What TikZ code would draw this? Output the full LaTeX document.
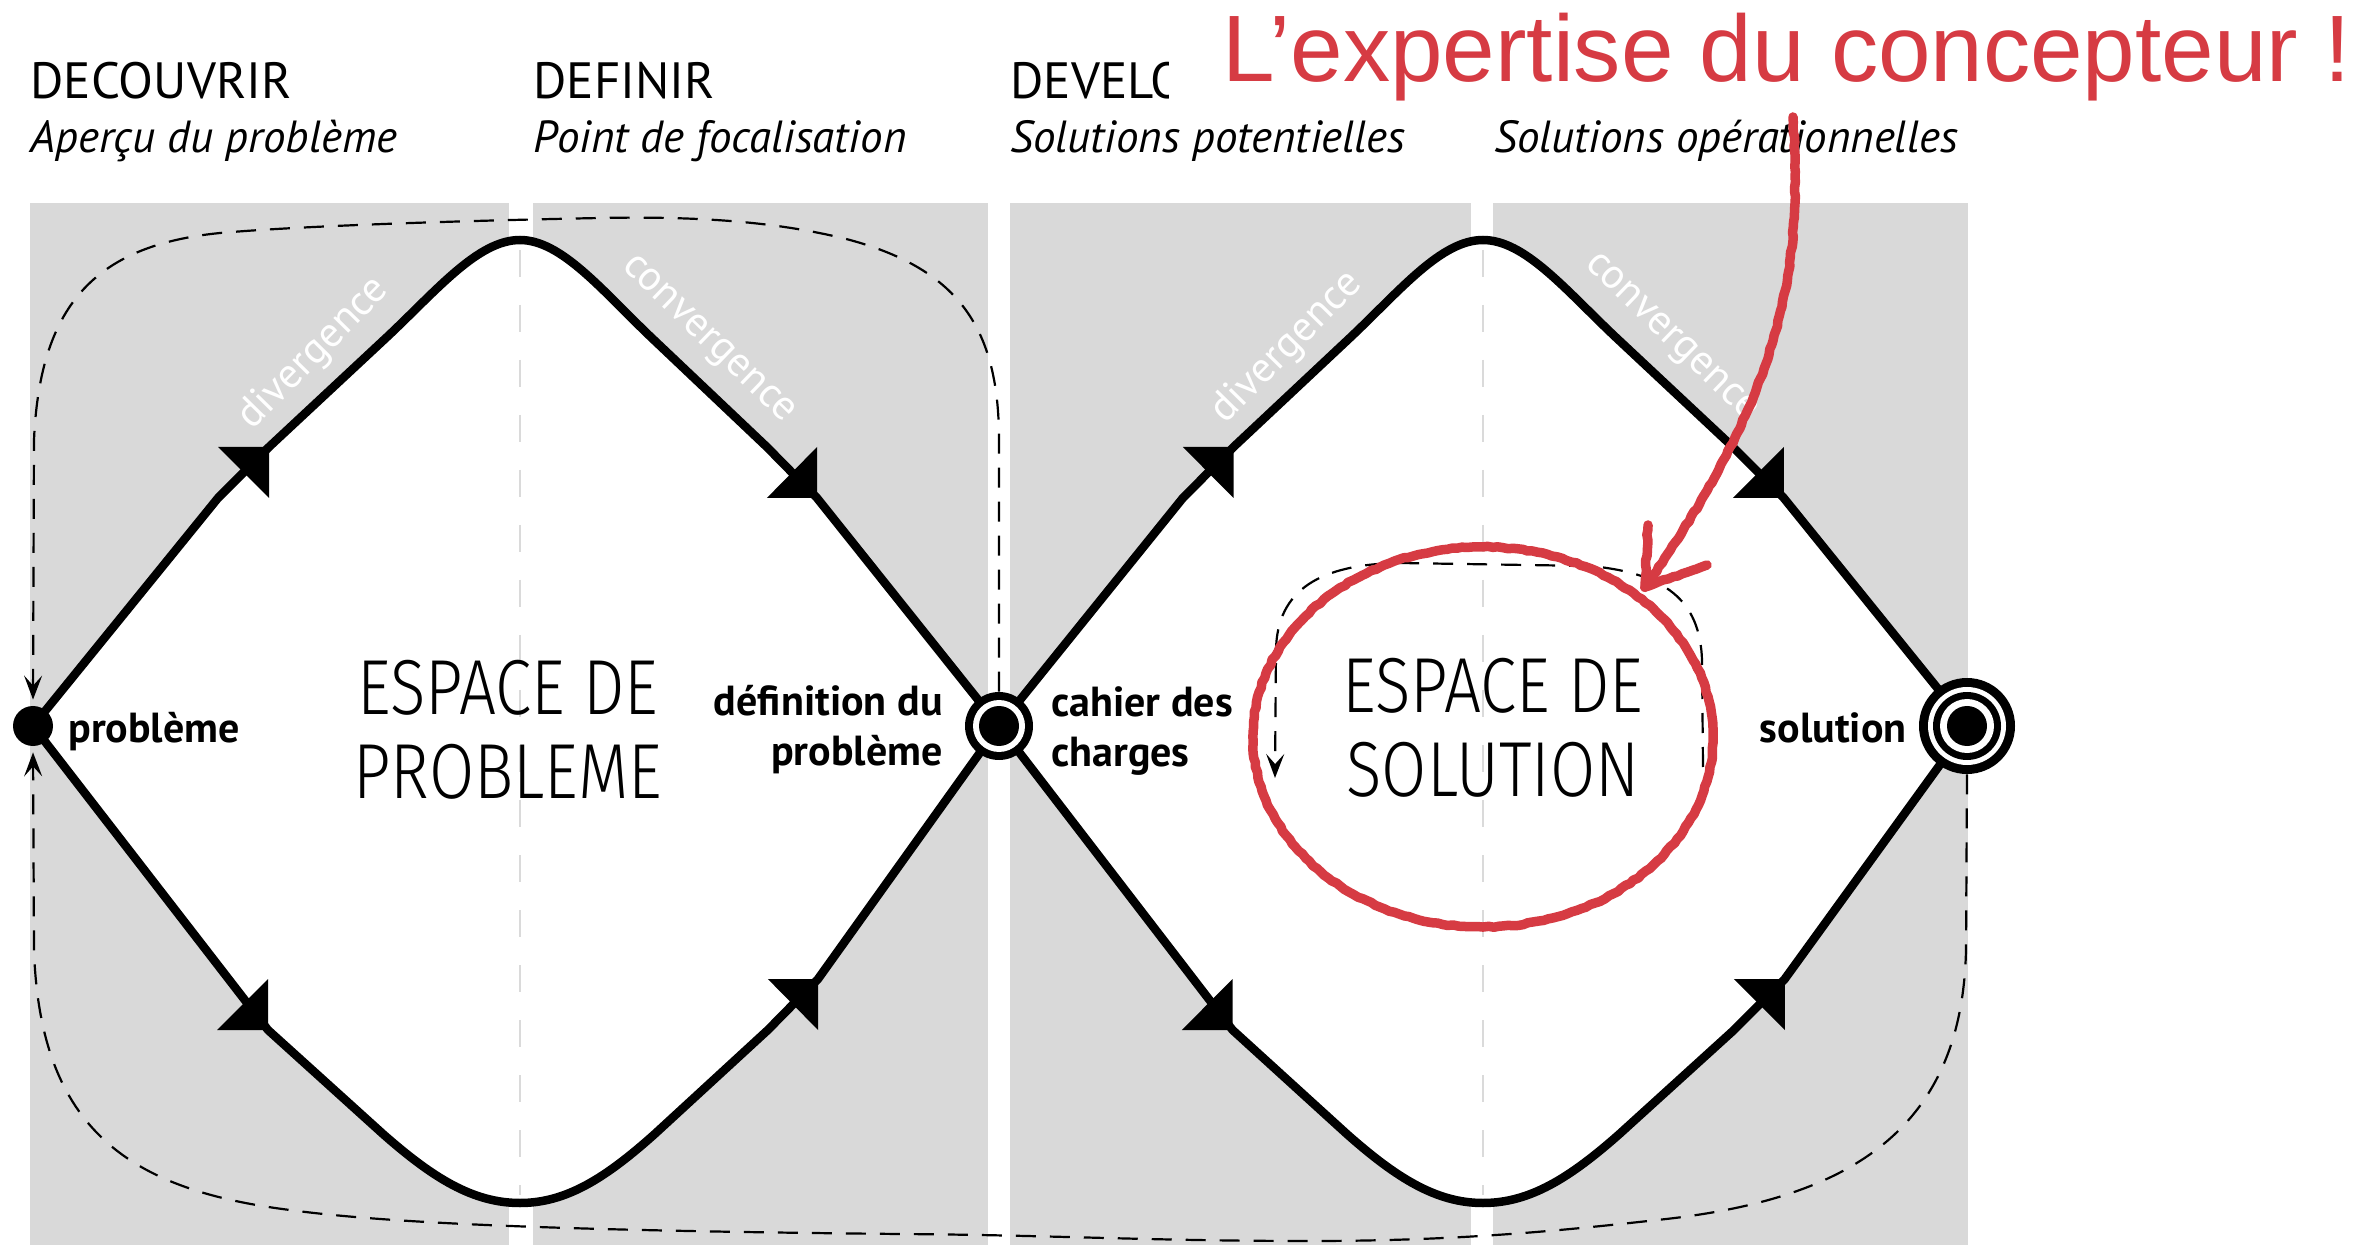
\documentclass[tikz,border=0pt]{standalone}
\usepackage{fontspec}
\setmainfont{PT Sans}
\newfontfamily\lightfont{Fira Sans Light}
\newfontfamily\helv{Liberation Sans}
\usetikzlibrary{arrows.meta,decorations.pathmorphing}
\definecolor{panelgray}{HTML}{D9D9D9}
\definecolor{centergray}{HTML}{DADADA}
\definecolor{expred}{HTML}{D63B43}
\def\qUpath{(0,0) -- (185,-228) -- (236,-279) -- (354,-389) .. controls (404,-436) and (445,-486) .. (487,-486)}
\def\qLdiv{(0,0) -- (235,304) -- (350,408) .. controls (400,452) and (440,477) .. (487,477)}
\def\qLconv{(0,0) -- (184,253) -- (235,304) -- (350,408) .. controls (400,452) and (440,477) .. (487,477)}
\begin{document}
\begin{tikzpicture}[x=0.5pt,y=-0.5pt,
  panel/.style={fill=panelgray},
  sideline/.style={line width=4.25pt, line join=round},
  loopdash/.style={line width=1.1pt, dash pattern=on 10pt off 7pt},
  looptip/.style={-{Stealth[length=12pt,width=9pt,inset=5pt]}},
  centerdash/.style={draw=centergray, line width=1.4pt, dash pattern=on 13.5pt off 14pt},
  head/.style={anchor=base west, inner sep=0pt, font=\fontsize{25.5}{30}\selectfont},
  subhead/.style={anchor=base west, inner sep=0pt, font=\fontsize{22.5}{27}\selectfont\itshape},
  lbl/.style={inner sep=0pt, font=\fontsize{21}{25}\selectfont\bfseries},
  phase/.style={inner sep=0pt, text=white, font=\fontsize{21}{24}\selectfont},
  espace/.style={inner sep=0pt, align=center, font=\lightfont\fontsize{39}{42}\selectfont, xscale=0.84, transform shape},
  redpen/.style={draw=expred, line width=4.75pt, line cap=round, line join=round,
    decorate, decoration={random steps, segment length=2.5pt, amplitude=0.35pt}},
  dotnode/.style={circle, fill=black, inner sep=0pt}
]
\pgfmathsetseed{7}
\useasboundingbox (0,0) rectangle (2362,1245);
\fill[white] (0,0) rectangle (2362,1245);
% panels
\fill[panel] (30,203) rectangle (509,1245);
\fill[panel] (533,203) rectangle (988,1245);
\fill[panel] (1010,203) rectangle (1471,1245);
\fill[panel] (1493,203) rectangle (1968,1245);
% diamond fills
\foreach \vx/\s in {33/1, 999/0.9938} {
  \begin{scope}[shift={(\vx,726)}, xscale=\s]
    \fill[white] \qUpath -- (490,-486) -- (490,3) -- (0,3) -- cycle;
    \fill[white] \qLdiv -- (490,477) -- (490,-3) -- (0,-3) -- cycle;
  \end{scope}
}
\foreach \vx/\s in {999/-0.9836, 1968/-0.9959} {
  \begin{scope}[shift={(\vx,726)}, xscale=\s]
    \fill[white] \qUpath -- (490,-486) -- (490,3) -- (0,3) -- cycle;
    \fill[white] \qLconv -- (490,477) -- (490,-3) -- (0,-3) -- cycle;
  \end{scope}
}
% centre lines
\draw[centerdash] (520,250) -- (520,1195);
\draw[centerdash] (1483,250) -- (1483,1195);
% divergence sides
\foreach \vx/\s in {33/1, 999/0.9938} {
  \begin{scope}[shift={(\vx,726)}, xscale=\s]
    \draw[sideline] \qUpath;
    \draw[sideline] \qLdiv;
    \fill (236,-279) -- (185,-279) -- (236,-228) -- cycle;
    \fill (235,304) -- (184,304) -- (235,253) -- cycle;
  \end{scope}
}
% convergence sides
\foreach \vx/\s in {999/-0.9836, 1968/-0.9959} {
  \begin{scope}[shift={(\vx,726)}, xscale=\s]
    \draw[sideline] \qUpath;
    \draw[sideline] \qLconv;
    \fill (185,-228) -- (185,-279) -- (236,-228) -- cycle;
    \fill (184,253) -- (184,304) -- (235,253) -- cycle;
  \end{scope}
}
% phase labels
\node[phase, rotate=45.5] (div1) at (314,354) {divergence};
\node[phase, rotate=-44] (conv1) at (707,341) {convergence};
\node[phase, rotate=45.5] (div2) at (1287,348) {divergence};
\node[phase, rotate=-44] (conv2) at (1670,339) {convergence};
% nodes
\node[dotnode, minimum size=20pt] (prob) at (33,726) {};
\node[dotnode, minimum size=34pt] (mid) at (999,726) {};
\fill[white] (mid) circle (26);
\fill (mid) circle (20);
\node[dotnode, minimum size=48pt] (sol) at (1967,726) {};
\fill[white] (sol) circle (39);
\fill (sol) circle (34);
\fill[white] (sol) circle (27);
\fill (sol) circle (20);
% feedback loops
\draw[loopdash, looptip, shorten >=3pt] (mid.north) -- (999,440)
  .. controls (999,330) and (960,270) .. (850,240)
  .. controls (780,222) and (700,216) .. (600,218)
  .. controls (450,221) and (300,226) .. (220,233)
  .. controls (100,245) and (40,300) .. (34,440) -- (prob.north);
\draw[loopdash, looptip, shorten >=3pt] (sol.south) -- (1966,950)
  .. controls (1962,1130) and (1850,1200) .. (1657,1220)
  .. controls (1550,1232) and (1450,1241) .. (1310,1241)
  .. controls (1150,1241) and (1050,1235) .. (900,1234)
  .. controls (600,1231) and (400,1225) .. (290,1210)
  .. controls (130,1190) and (40,1130) .. (34,950) -- (prob.south);
\coordinate (inA) at (1703,767);
\coordinate (inB) at (1275,778);
\draw[loopdash, looptip] (inA) -- (1702,660)
  .. controls (1700,600) and (1665,573) .. (1590,566) -- (1400,563)
  .. controls (1320,564) and (1277,590) .. (1276,650) -- (inB);
% labels
\node[lbl, anchor=base west] (lprob) at (68,742) {problème};
\node[lbl, anchor=north east, align=right] (ldef) at (943,685) {définition du\\problème};
\node[lbl, anchor=north west, align=left] (lcdc) at (1051,686) {cahier des\\charges};
\node[lbl, anchor=base east] (lsol) at (1907,742) {solution};
\node[espace, anchor=north] (esp1) at (508,660) {ESPACE DE\\PROBLEME};
\node[espace, anchor=north] (esp2) at (1493,658) {ESPACE DE\\SOLUTION};
% headings
\node[head] (h1) at (30,99) {DECOUVRIR};
\node[head] (h2) at (533,99) {DEFINIR};
\node[head] (h3) at (1010,99) {DEVELOPPER};
\node[subhead] (s1) at (30,153) {Aperçu du problème};
\node[subhead] (s2) at (533,153) {Point de focalisation};
\node[subhead] (s3) at (1010,153) {Solutions potentielles};
\node[subhead] (s4) at (1494,153) {Solutions opérationnelles};
% red annotation
\draw[redpen] (1483,737) ellipse [x radius=230, y radius=190];
\coordinate (redstart) at (1793,117);
\coordinate (redtip) at (1645,587);
\draw[redpen] (redstart) .. controls (1802,260) and (1788,385) .. (redtip);
\draw[redpen] (1648,525) -- (redtip) -- (1707,565);
\fill[white] (1169,0) rectangle (2362,110);
\node[anchor=base west, inner sep=0pt, text=expred, font=\helv\fontsize{47.2}{52}\selectfont] (title) at (1222,82) {L’expertise du concepteur !};
\end{tikzpicture}
\end{document}
